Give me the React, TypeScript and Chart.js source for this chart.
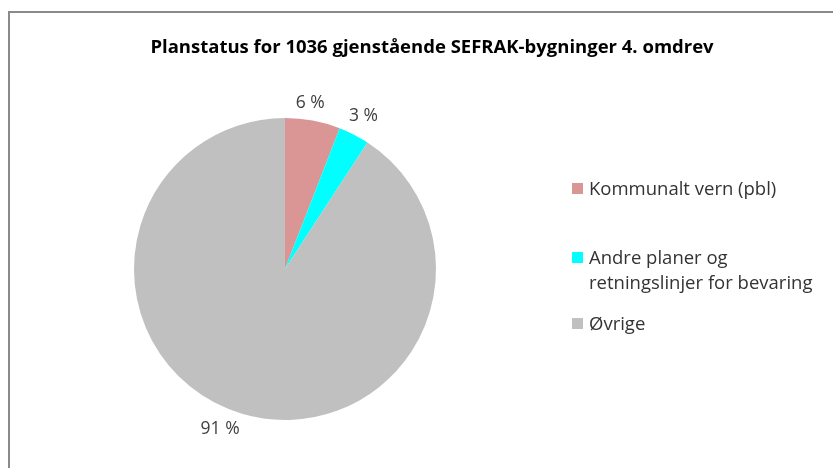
import React, { useEffect, useRef } from "react";
import { Chart, registerables } from "chart.js";

Chart.register(...registerables);

const TITLE = "Planstatus for 1036 gjenstående SEFRAK-bygninger 4. omdrev";
const categories: string[][] = [
  ["Kommunalt vern (pbl)"],
  ["Andre planer og", "retningslinjer for bevaring"],
  ["Øvrige"],
];
const values: number[] = [5.9, 3.3, 90.8];
const colors: string[] = ["#D99694", "#00FFFF", "#C0C0C0"];

const FONT = "'Open Sans', Lato, sans-serif";
const W = 833;
const H = 468;
// small placement nudges (degrees) for the outside labels, matching the reference's best-fit placement
const LABEL_NUDGE_DEG = [-2, 0, 5.5];

const framePlugin = {
  id: "frame",
  beforeDraw(chart: any) {
    const ctx = chart.ctx;
    ctx.save();
    ctx.fillStyle = "#ffffff";
    ctx.fillRect(0, 0, W, H);
    ctx.strokeStyle = "#8a8a8a";
    ctx.lineWidth = 2;
    ctx.strokeRect(9, 12, 1200, 1200);
    ctx.restore();
  },
};

const titlePlugin = {
  id: "customTitle",
  afterDraw(chart: any) {
    const ctx = chart.ctx;
    ctx.save();
    ctx.font = `bold 18.5px ${FONT}`;
    ctx.fillStyle = "#000000";
    ctx.textAlign = "center";
    ctx.textBaseline = "alphabetic";
    ctx.fillText(TITLE, 432, 53);
    ctx.restore();
  },
};

const labelPlugin = {
  id: "pieLabels",
  afterDatasetsDraw(chart: any) {
    const ctx = chart.ctx;
    const meta = chart.getDatasetMeta(0);
    const data = chart.data.datasets[0].data as number[];
    const total = data.reduce((a, b) => a + b, 0);
    ctx.save();
    ctx.font = `17.5px ${FONT}`;
    ctx.fillStyle = "#404040";
    ctx.textAlign = "center";
    ctx.textBaseline = "middle";
    meta.data.forEach((arc: any, i: number) => {
      const p = arc.getProps(["x", "y", "startAngle", "endAngle", "outerRadius"], true);
      const mid = (p.startAngle + p.endAngle) / 2 + (LABEL_NUDGE_DEG[i] * Math.PI) / 180;
      const text = `${Math.round((data[i] / total) * 100)} %`;
      const w = ctx.measureText(text).width;
      const h = 14;
      const c = Math.cos(mid);
      const s = Math.sin(mid);
      const dist = p.outerRadius + 8 + (Math.abs(c) * w) / 2 + (Math.abs(s) * h) / 2;
      ctx.fillText(text, p.x + c * dist, p.y + s * dist);
    });
    ctx.restore();
  },
};

const legendPlugin = {
  id: "customLegend",
  afterDraw(chart: any) {
    const ctx = chart.ctx;
    const labels = chart.data.labels as string[][];
    const bg = chart.data.datasets[0].backgroundColor as string[];
    const baselines = [195, 264, 330];
    const lineH = 25;
    ctx.save();
    ctx.font = `18.5px ${FONT}`;
    ctx.textAlign = "left";
    ctx.textBaseline = "alphabetic";
    labels.forEach((lines, i) => {
      const y = baselines[i];
      ctx.fillStyle = bg[i];
      ctx.fillRect(572, y - 12, 11, 11);
      ctx.fillStyle = "#333333";
      lines.forEach((ln, j) => {
        ctx.fillText(ln, 589, y + j * lineH);
      });
    });
    ctx.restore();
  },
};

export default function App() {
  const ref = useRef<HTMLCanvasElement | null>(null);
  useEffect(() => {
    if (!ref.current) return;
    const chart = new Chart(ref.current, {
      type: "pie",
      data: {
        labels: categories,
        datasets: [
          {
            data: values,
            backgroundColor: colors,
            borderWidth: 0,
          },
        ],
      },
      options: {
        responsive: false,
        animation: false,
        layout: { padding: { left: 134, right: 397, top: 118, bottom: 48 } },
        plugins: {
          legend: { display: false },
          title: { display: false },
          tooltip: { enabled: false },
        },
      },
      plugins: [framePlugin, labelPlugin, titlePlugin, legendPlugin],
    });
    return () => chart.destroy();
  }, []);
  return (
    <div style={{ position: "fixed", left: 0, top: 0, width: W, height: H, overflow: "hidden" }}>
      <canvas ref={ref} width={W} height={H} style={{ display: "block" }} />
    </div>
  );
}
